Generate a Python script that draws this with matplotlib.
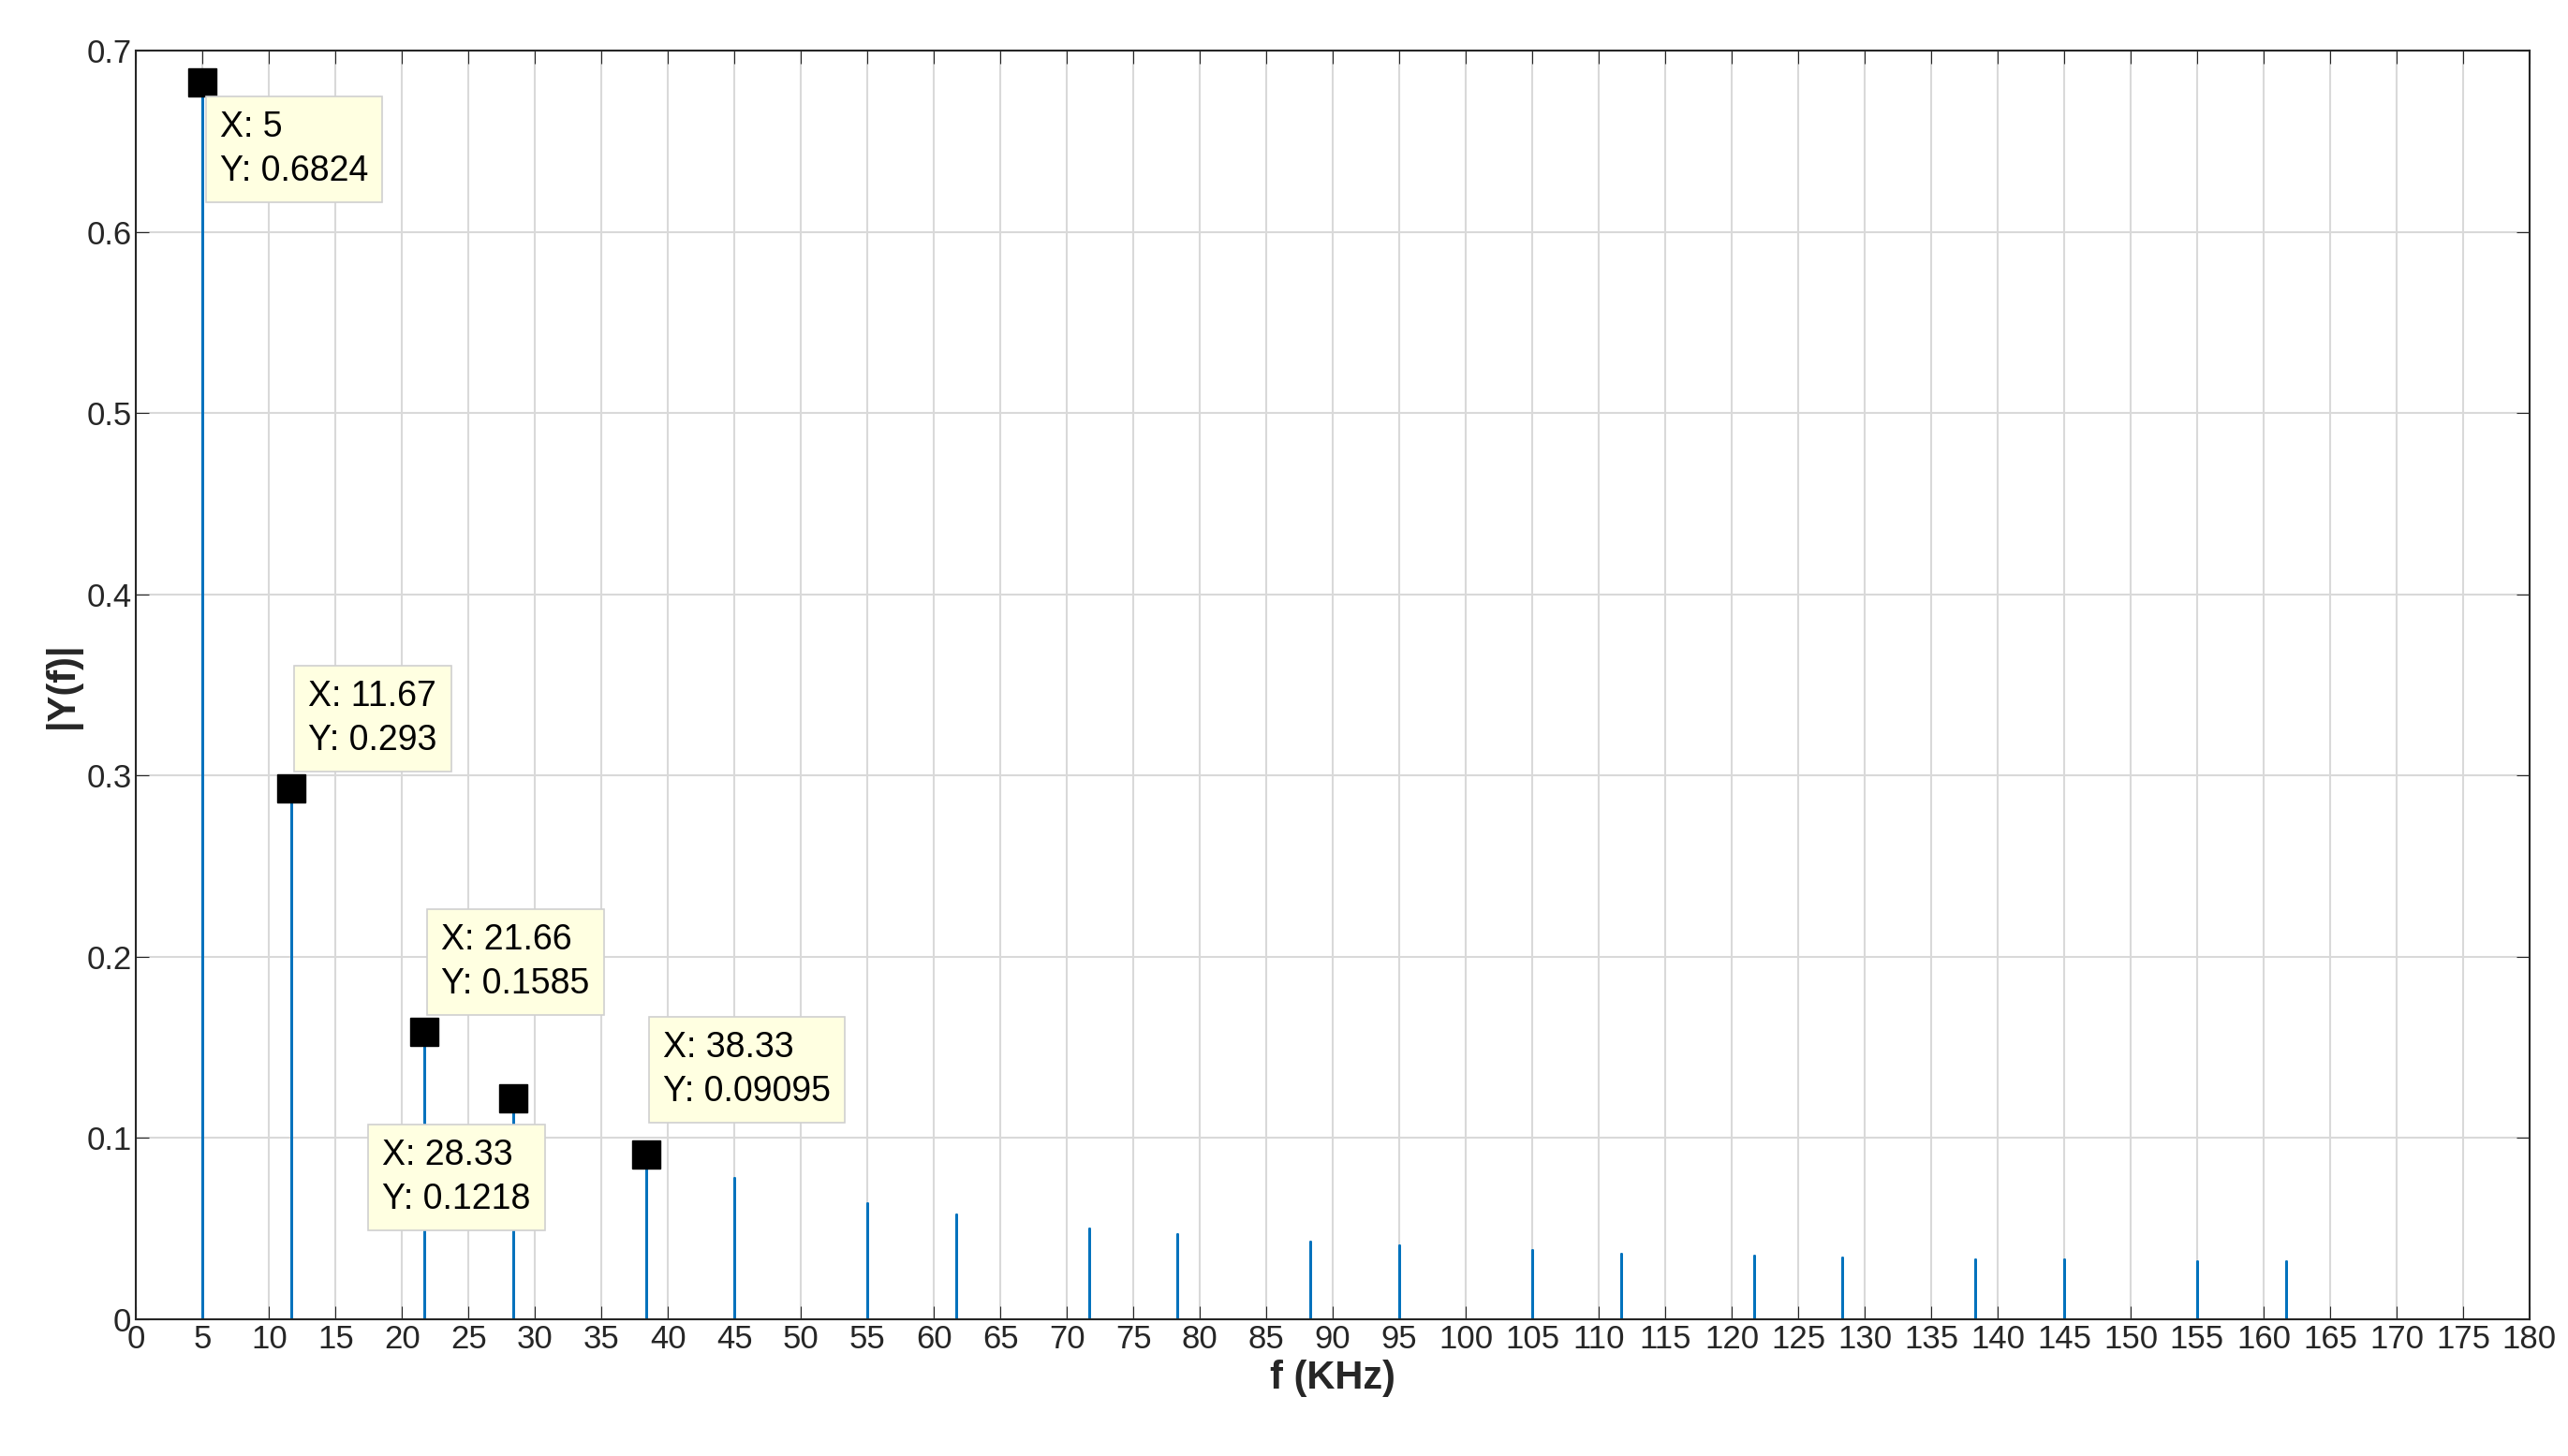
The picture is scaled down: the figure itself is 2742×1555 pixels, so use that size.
import matplotlib
matplotlib.use("Agg")
import matplotlib.pyplot as plt
import numpy as np

plt.rcParams['font.family'] = ['Liberation Sans', 'DejaVu Sans']

peak_f = [5, 11.67, 21.66, 28.33, 38.33, 45, 55, 61.67, 71.67, 78.33, 88.33, 95,
          105, 111.67, 121.67, 128.33, 138.33, 145, 155, 161.67]
peak_y = [0.6824, 0.293, 0.1585, 0.1218, 0.09095, 0.078, 0.064, 0.058, 0.050, 0.047,
          0.043, 0.041, 0.038, 0.036, 0.035, 0.034, 0.033, 0.033, 0.032, 0.032]
f_end = 166.5
tips = [(5, 0.6824, "X: 5\nY: 0.6824", (1.3, -0.015)),
        (11.67, 0.293, "X: 11.67\nY: 0.293", (1.3, 0.06)),
        (21.66, 0.1585, "X: 21.66\nY: 0.1585", (1.3, 0.06)),
        (28.33, 0.1218, "X: 28.33\nY: 0.1218", (-9.8, -0.022)),
        (38.33, 0.09095, "X: 38.33\nY: 0.09095", (1.3, 0.068))]

xs, ys = [0.0], [0.0]
for f, y in zip(peak_f, peak_y):
    xs += [f, f, f]
    ys += [0.0, y, 0.0]
xs.append(f_end); ys.append(0.0)

fig = plt.figure(figsize=(27.42, 15.55), dpi=100)
ax = fig.add_axes([0.053, 0.094, 0.932, 0.871])
ax.plot(xs, ys, color="#0072BD", lw=2.0)
ax.set_xlim(0, 180)
ax.set_ylim(0, 0.7)
ax.set_xticks(np.arange(0, 181, 5))
ax.set_yticks(np.arange(0, 0.71, 0.1))
ax.set_yticklabels(["0"] + [f"{v:.1f}" for v in np.arange(0.1, 0.71, 0.1)])
ax.grid(True, color="#d9d9d9", lw=1.5)
ax.tick_params(labelsize=25, direction="in", length=10, top=True, right=True, colors="#262626")
for s in ax.spines.values():
    s.set_color("#262626"); s.set_linewidth(1.5)
ax.set_xlabel("f (KHz)", fontsize=30, fontweight="bold", color="#262626")
ax.set_ylabel("|Y(f)|", fontsize=30, fontweight="bold", color="#262626")
for (x, y, t, (dx, dy)) in tips:
    ax.plot(x, y, marker="s", color="black", ms=22)
    ax.text(x + dx, y + dy, t, fontsize=27, va="top", ha="left", linespacing=1.4,
            bbox=dict(boxstyle="square,pad=0.4", fc="#ffffe1", ec="#d0d0d0", lw=1.2))
fig.savefig("out.png", dpi=100)
